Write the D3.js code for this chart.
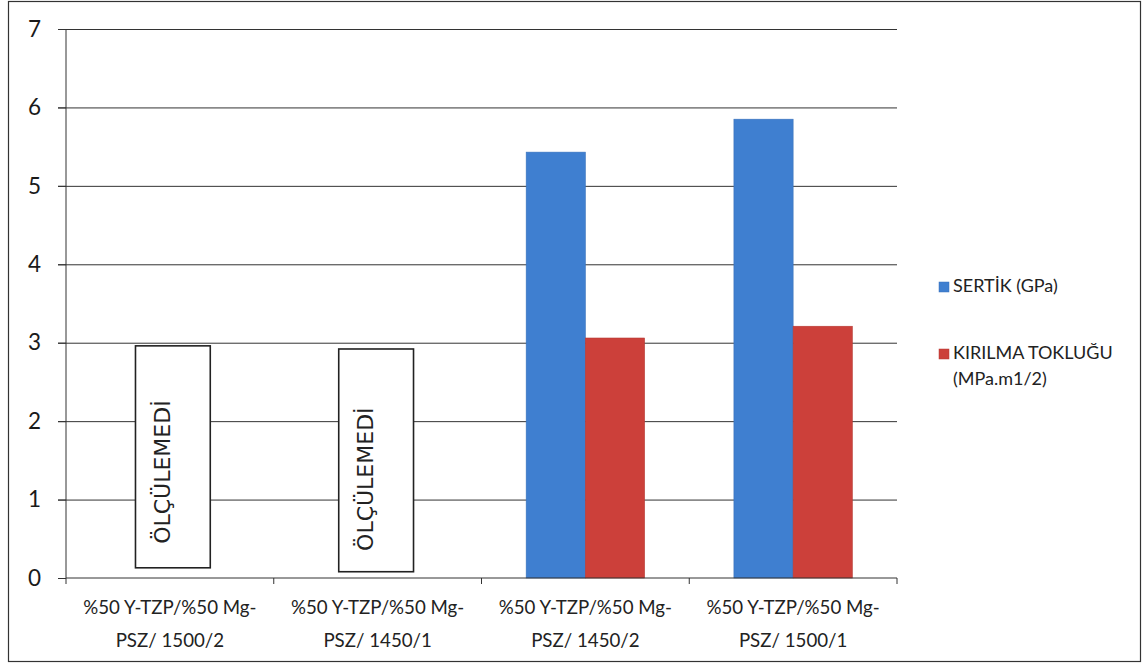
<!DOCTYPE html>
<html>
<head>
<meta charset="utf-8">
<script src="https://cdn.jsdelivr.net/npm/d3@7"></script>
<style>
  html, body { margin: 0; padding: 0; background: #fff; }
  svg { display: block; font-family: Lato, "Open Sans", sans-serif; }
</style>
</head>
<body>
<svg id="chart" width="1147" height="665"></svg>
<script>
// Samples: composition / sintering temperature / hold time
const categories = [
  "%50 Y-TZP/%50 Mg-|PSZ/ 1500/2",
  "%50 Y-TZP/%50 Mg-|PSZ/ 1450/1",
  "%50 Y-TZP/%50 Mg-|PSZ/ 1450/2",
  "%50 Y-TZP/%50 Mg-|PSZ/ 1500/1"
];
const seriesNames = ["SERTİK (GPa)", "KIRILMA TOKLUĞU|(MPa.m1/2)"];
const hardness = [null, null, 5.43, 5.85];
const toughness = [null, null, 3.06, 3.21];
// Samples that could not be measured: boxed note spanning [low, high]
const notMeasured = [
  { cat: 0, low: 0.13, high: 2.96, textAt: 1.35, text: "ÖLÇÜLEMEDİ" },
  { cat: 1, low: 0.08, high: 2.92, textAt: 1.26, text: "ÖLÇÜLEMEDİ" }
];
const yTicks = [0, 1, 2, 3, 4, 5, 6, 7];
const colors = ["#3f7fd0", "#cc403a"];

const svg = d3.select("#chart");
const margin = { left: 66, right: 250, top: 29, bottom: 87 };
const W = 1147, H = 665;
const plotW = W - margin.left - margin.right;
const plotH = H - margin.top - margin.bottom;

// Outer frame
svg.append("rect")
  .attr("x", 8.5).attr("y", 1.5).attr("width", 1132).attr("height", 660)
  .attr("fill", "none").attr("stroke", "#333").attr("stroke-width", 1.2);

const g = svg.append("g").attr("transform", `translate(${margin.left},${margin.top})`);

const x = d3.scaleBand().domain(d3.range(categories.length)).range([0, plotW]).paddingInner(0).paddingOuter(0);
const y = d3.scaleLinear().domain([0, 7]).range([plotH, 0]);
const groupW = x.bandwidth() * 0.57;
const xs = d3.scaleBand().domain([0, 1]).range([0, groupW]);

// Gridlines with left tick stubs
g.append("g")
  .call(d3.axisLeft(y).tickValues(yTicks.filter(v => v > 0)).tickSize(-plotW - 8).tickFormat(""))
  .attr("transform", "translate(-8,0)")
  .call(a => a.select(".domain").remove())
  .call(a => a.selectAll("line").attr("stroke", "#333").attr("stroke-width", 1));

// Y axis
const yAxis = g.append("g")
  .call(d3.axisLeft(y).tickValues(yTicks).tickSize(8).tickPadding(17).tickFormat(d3.format("d")));
yAxis.select(".domain").attr("stroke", "#333").attr("d", `M0,0V${plotH}`);
yAxis.selectAll("line").attr("stroke", "#333");
yAxis.selectAll("text").attr("font-size", 22.5).attr("fill", "#1a1a1a")
  .attr("font-family", "Lato, sans-serif");

// Bars
const data = categories.map((c, i) => [hardness[i], toughness[i]]);
const groups = g.selectAll(".grp").data(data).join("g")
  .attr("transform", (d, i) => `translate(${x(i) + (x.bandwidth() - groupW) / 2},0)`);
groups.selectAll("rect").data(d => d.map((v, k) => ({ v, k })).filter(e => e.v != null)).join("rect")
  .attr("x", e => xs(e.k)).attr("width", xs.bandwidth())
  .attr("y", e => y(e.v)).attr("height", e => y(0) - y(e.v))
  .attr("fill", e => colors[e.k])
  .attr("stroke", e => d3.color(colors[e.k]).darker(0.3)).attr("stroke-width", 0.6);

// Not-measured boxes (hand-placed slightly off the category centre)
const boxW = x.bandwidth() * 0.36;
const boxShift = [3, -1.5];
const nm = g.selectAll(".nm").data(notMeasured).join("g");
nm.append("rect")
  .attr("x", (d, i) => x(d.cat) + x.bandwidth() / 2 - boxW / 2 + boxShift[i])
  .attr("width", boxW)
  .attr("y", d => y(d.high)).attr("height", d => y(d.low) - y(d.high))
  .attr("fill", "#fff").attr("stroke", "#222").attr("stroke-width", 1.6);
nm.append("text")
  .attr("transform", (d, i) => `translate(${x(d.cat) + x.bandwidth() / 2 + boxShift[i] - 3},${y(d.textAt)}) rotate(-90)`)
  .attr("text-anchor", "middle")
  .attr("font-size", 22).attr("fill", "#222")
  .attr("font-family", "'DejaVu Sans', sans-serif")
  .text(d => d.text);

// X axis
const xAxis = g.append("g").attr("transform", `translate(0,${plotH})`);
xAxis.append("line").attr("x1", 0).attr("x2", plotW).attr("stroke", "#333");
xAxis.selectAll(".tk").data(d3.range(categories.length + 1)).join("line")
  .attr("x1", i => i === categories.length ? plotW : x(i))
  .attr("x2", i => i === categories.length ? plotW : x(i))
  .attr("y1", 0).attr("y2", 6).attr("stroke", "#333");
xAxis.selectAll(".lbl").data(categories).join("text")
  .attr("x", (d, i) => x(i) + x.bandwidth() / 2)
  .attr("text-anchor", "middle").attr("font-size", 18.7).attr("fill", "#222")
  .each(function (d) {
    d.split("|").forEach((line, j) => {
      d3.select(this).append("tspan")
        .attr("x", d3.select(this).attr("x"))
        .attr("y", 36 + j * 33).text(line);
    });
  });

// Legend
const legend = svg.append("g").attr("transform", "translate(939,0)");
const legendY = [292, 359];
seriesNames.forEach((name, k) => {
  legend.append("rect").attr("x", 0).attr("y", legendY[k] - 10).attr("width", 10).attr("height", 10)
    .attr("fill", colors[k]).attr("stroke", d3.color(colors[k]).darker(0.3)).attr("stroke-width", 0.5);
  const t = legend.append("text").attr("font-size", 18).attr("fill", "#222");
  name.split("|").forEach((line, j) => {
    t.append("tspan").attr("x", 14).attr("y", legendY[k] + j * 26).text(line);
  });
});
</script>
</body>
</html>
